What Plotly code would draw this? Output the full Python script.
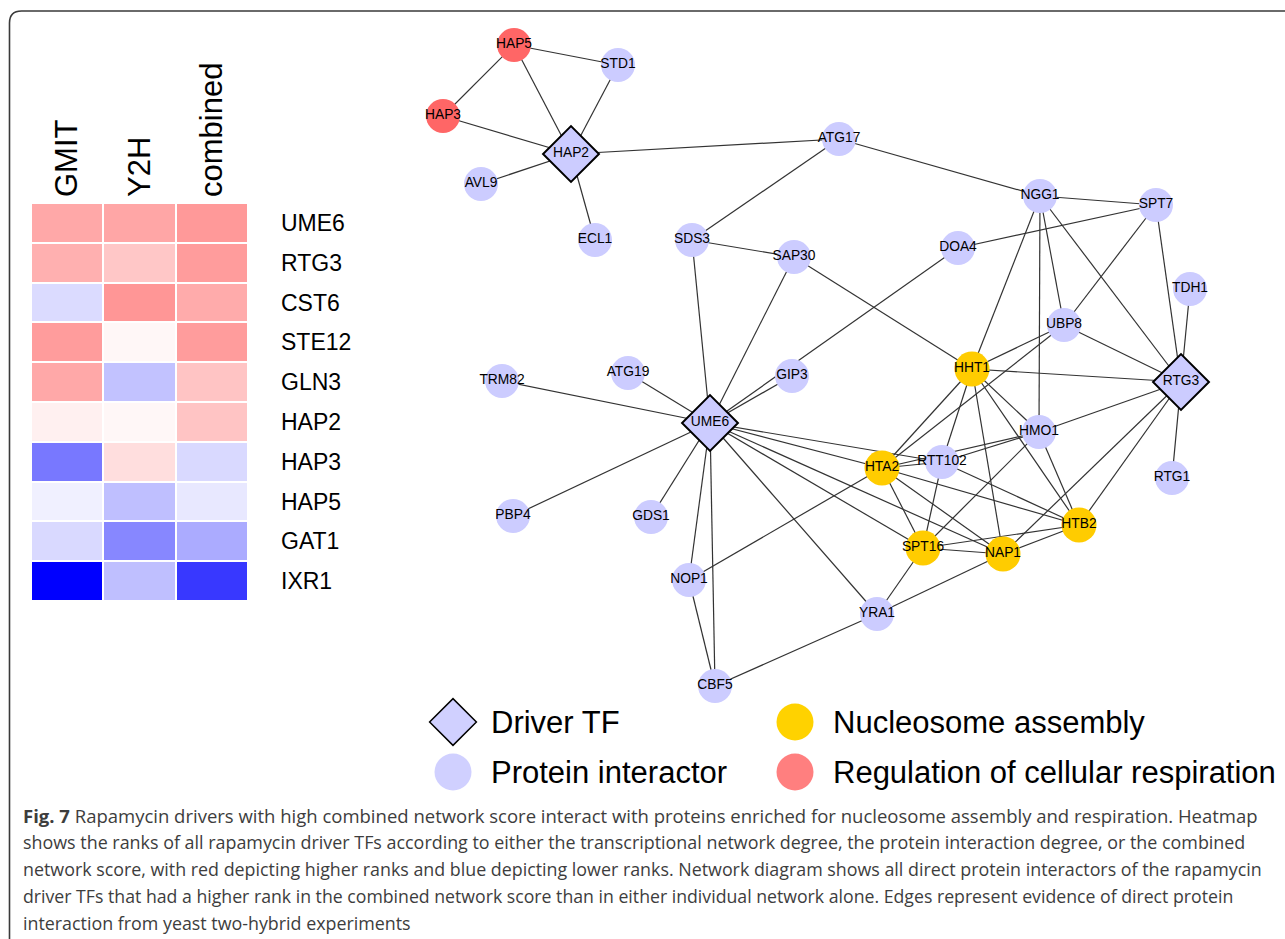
import plotly.graph_objects as go

# ---------------- Heatmap data ----------------
hm_columns = ["GMIT", "Y2H", "combined"]
hm_rows = ["UME6", "RTG3", "CST6", "STE12", "GLN3", "HAP2", "HAP3", "HAP5", "GAT1", "IXR1"]
# signed rank score: + = higher rank (red), - = lower rank (blue)
gmit_vals = [0.34, 0.31, -0.14, 0.39, 0.34, 0.06, -0.53, -0.06, -0.15, -1.00]
y2h_vals = [0.35, 0.22, 0.41, 0.03, -0.24, 0.03, 0.13, -0.25, -0.47, -0.25]
combined_vals = [0.40, 0.39, 0.33, 0.39, 0.23, 0.23, -0.15, -0.09, -0.33, -0.78]

# ---------------- Network data ----------------
node_names = ["HAP5", "STD1", "HAP3", "HAP2", "AVL9", "ECL1", "ATG17", "SDS3", "SAP30",
              "DOA4", "NGG1", "SPT7", "TDH1", "UBP8", "HHT1", "RTG3", "TRM82", "ATG19",
              "GIP3", "UME6", "HMO1", "RTT102", "HTA2", "RTG1", "PBP4", "GDS1", "HTB2",
              "SPT16", "NAP1", "NOP1", "YRA1", "CBF5"]
node_x = [514, 618, 443, 571, 481, 595, 839, 692, 794,
          958, 1040, 1156, 1190, 1064, 972, 1181, 502, 628,
          792, 710, 1039, 942, 882, 1172, 513, 651, 1079,
          923, 1003, 689, 877, 715]
node_y = [45, 65, 116, 154, 184, 240, 139, 240, 257,
          248, 196, 205, 289, 325, 369, 382, 381, 373,
          376, 423, 432, 462, 468, 478, 516, 517, 525,
          548, 554, 580, 614, 686]
node_class = ["resp", "prot", "resp", "driver", "prot", "prot", "prot", "prot", "prot",
              "prot", "prot", "prot", "prot", "prot", "nuc", "driver", "prot", "prot",
              "prot", "driver", "prot", "prot", "nuc", "prot", "prot", "prot", "nuc",
              "nuc", "nuc", "prot", "prot", "prot"]

edges = [
    ("HAP5", "HAP3"), ("HAP5", "STD1"), ("HAP5", "HAP2"), ("STD1", "HAP2"), ("HAP3", "HAP2"),
    ("AVL9", "HAP2"), ("ECL1", "HAP2"), ("HAP2", "ATG17"),
    ("ATG17", "SDS3"), ("ATG17", "NGG1"), ("SDS3", "SAP30"), ("SDS3", "UME6"),
    ("SAP30", "UME6"), ("SAP30", "HHT1"),
    ("DOA4", "SPT7"), ("DOA4", "UME6"), ("GIP3", "UME6"),
    ("TRM82", "UME6"), ("ATG19", "UME6"), ("PBP4", "UME6"), ("GDS1", "UME6"),
    ("NOP1", "UME6"), ("CBF5", "UME6"), ("YRA1", "UME6"),
    ("UME6", "RTT102"), ("UME6", "HTA2"), ("UME6", "NAP1"), ("UME6", "SPT16"),
    ("NGG1", "SPT7"), ("NGG1", "HHT1"), ("NGG1", "HMO1"), ("NGG1", "UBP8"), ("NGG1", "RTG3"),
    ("SPT7", "UBP8"), ("SPT7", "RTG3"), ("TDH1", "RTG3"),
    ("UBP8", "HHT1"), ("UBP8", "HTA2"), ("UBP8", "RTG3"),
    ("HHT1", "RTG3"), ("HHT1", "HTA2"), ("HHT1", "RTT102"), ("HHT1", "NAP1"),
    ("HHT1", "HMO1"), ("HHT1", "HTB2"),
    ("HMO1", "RTG3"), ("HMO1", "RTT102"), ("HMO1", "HTA2"), ("HMO1", "SPT16"), ("HMO1", "HTB2"),
    ("RTG3", "RTG1"), ("RTG3", "HTB2"), ("RTG3", "NAP1"),
    ("HTA2", "NOP1"), ("HTA2", "RTT102"), ("HTA2", "HTB2"), ("HTA2", "SPT16"), ("HTA2", "NAP1"),
    ("RTT102", "SPT16"), ("RTT102", "HTB2"),
    ("SPT16", "HTB2"), ("SPT16", "NAP1"), ("SPT16", "YRA1"),
    ("NAP1", "HTB2"), ("NAP1", "YRA1"),
    ("YRA1", "CBF5"), ("CBF5", "NOP1"),
]

legend_labels = ["Driver TF", "Protein interactor", "Nucleosome assembly",
                 "Regulation of cellular respiration"]
legend_classes = ["driver", "prot", "nuc", "resp"]

caption_lines = [
    "<b>Fig. 7</b> Rapamycin drivers with high combined network score interact with proteins enriched for nucleosome assembly and respiration. Heatmap",
    "shows the ranks of all rapamycin driver TFs according to either the transcriptional network degree, the protein interaction degree, or the combined",
    "network score, with red depicting higher ranks and blue depicting lower ranks. Network diagram shows all direct protein interactors of the rapamycin",
    "driver TFs that had a higher rank in the combined network score than in either individual network alone. Edges represent evidence of direct protein",
    "interaction from yeast two-hybrid experiments",
]
caption_sizes = [18.5, 17.9, 17.85, 17.7, 17.85]

# ---------------- Styles ----------------
W, H = 1285, 939
class_color = {"driver": "#CCCCFF", "prot": "#CCCCFF", "nuc": "#FFCC00", "resp": "#FF6666"}
legend_color = {"driver": "#D0D0FF", "prot": "#D0D0FF", "nuc": "#FFD200", "resp": "#FF7F7F"}
class_symbol = {"driver": "diamond", "prot": "circle", "nuc": "circle", "resp": "circle"}
class_size = {"driver": 43, "prot": 34, "nuc": 35, "resp": 34}
FONT = "Liberation Sans, Arial, Helvetica, sans-serif"

fig = go.Figure()

# heatmap
z = [[g, y, c] for g, y, c in zip(gmit_vals, y2h_vals, combined_vals)]
fig.add_trace(go.Heatmap(
    z=z, x=hm_columns, y=hm_rows, xaxis="x2", yaxis="y2",
    zmin=-1, zmax=1, xgap=2, ygap=2, showscale=False, hoverinfo="skip",
    colorscale=[[0, "#0000FF"], [0.5, "#FFFFFF"], [1, "#FF0000"]],
))

# edges
pos = {n: (x, y) for n, x, y in zip(node_names, node_x, node_y)}
ex, ey = [], []
for a, b in edges:
    ex += [pos[a][0], pos[b][0], None]
    ey += [pos[a][1], pos[b][1], None]
fig.add_trace(go.Scatter(x=ex, y=ey, mode="lines", xaxis="x", yaxis="y",
                         line=dict(color="#333333", width=1.2), hoverinfo="skip",
                         showlegend=False))

# nodes
for cls in ["prot", "nuc", "resp", "driver"]:
    idx = [i for i, c in enumerate(node_class) if c == cls]
    fig.add_trace(go.Scatter(
        x=[node_x[i] for i in idx], y=[node_y[i] for i in idx],
        text=[node_names[i] for i in idx], mode="markers+text",
        textposition="middle center",
        textfont=dict(family=FONT, size=13.8, color="#000000"),
        marker=dict(symbol=class_symbol[cls], size=class_size[cls], color=class_color[cls],
                    line=dict(color="#000000", width=2 if cls == "driver" else 0)),
        xaxis="x", yaxis="y", hoverinfo="skip", showlegend=False))

# custom legend (2 x 2 grid)
leg_col_x = [453, 795]
leg_row_y = [722, 772]
for k, (lab, cls) in enumerate(zip(legend_labels, legend_classes)):
    col = 0 if k < 2 else 1
    row = k % 2
    gx, gy = leg_col_x[col], leg_row_y[row]
    fig.add_trace(go.Scatter(
        x=[gx], y=[gy], mode="markers", xaxis="x", yaxis="y", hoverinfo="skip",
        showlegend=False,
        marker=dict(symbol=class_symbol[cls], size=36 if cls == "driver" else 37,
                    color=legend_color[cls],
                    line=dict(color="#000000", width=1.5 if cls == "driver" else 0))))
    fig.add_annotation(x=gx + 36, y=gy, text=lab, xref="x", yref="y", showarrow=False,
                       xanchor="left", yanchor="middle",
                       font=dict(family=FONT, size=31, color="#000000"))

# caption
cap_y0, cap_dy = 815, 27
for i, (line, fs) in enumerate(zip(caption_lines, caption_sizes)):
    fig.add_annotation(x=21, y=cap_y0 + i * cap_dy, text=line, xref="x", yref="y",
                       showarrow=False, xanchor="left", yanchor="middle",
                       font=dict(family="Open Sans, sans-serif", size=fs, color="#3d3d3d"))

# frame (top + left border with rounded corner)
fig.add_shape(type="path", xref="x", yref="y",
              path="M 9.5,939 L 9.5,23 Q 9.5,11 21.5,11 L 1285,11",
              line=dict(color="#3a3a3a", width=1.6))

hx0, hx1 = 31 / W, 248 / W
hy0, hy1 = 1 - 601 / H, 1 - 203 / H

fig.update_layout(
    width=W, height=H, margin=dict(l=0, r=0, t=0, b=0),
    paper_bgcolor="white", plot_bgcolor="rgba(0,0,0,0)", showlegend=False,
    xaxis=dict(range=[0, W], domain=[0, 1], visible=False, fixedrange=True),
    yaxis=dict(range=[H, 0], domain=[0, 1], visible=False, fixedrange=True),
    xaxis2=dict(domain=[hx0, hx1], anchor="y2", side="top", tickangle=-90,
                tickfont=dict(family=FONT, size=31, color="#000000"),
                showgrid=False, zeroline=False, showline=False, ticks="",
                ticklabelstandoff=5, fixedrange=True),
    yaxis2=dict(domain=[hy0, hy1], anchor="x2", side="right", autorange="reversed",
                tickfont=dict(family=FONT, size=23, color="#000000"),
                showgrid=False, zeroline=False, showline=False, ticks="",
                ticklabelstandoff=32, fixedrange=True),
)

fig.write_html("out.html", post_script="document.body.style.margin='0';",
               config={"displayModeBar": False})
